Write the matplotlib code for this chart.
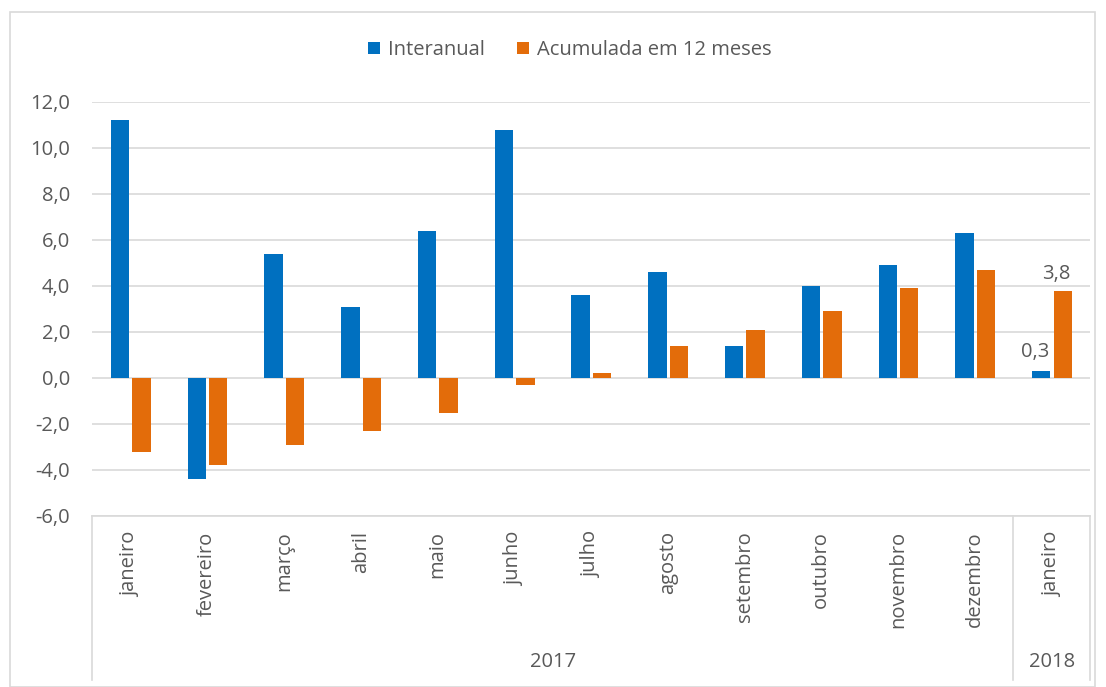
import matplotlib.pyplot as plt
from matplotlib.patches import Rectangle
import numpy as np

months = ["janeiro", "fevereiro", "março", "abril", "maio", "junho", "julho",
          "agosto", "setembro", "outubro", "novembro", "dezembro", "janeiro"]
years = ["2017", "2018"]
interanual = [11.2, -4.4, 5.4, 3.1, 6.4, 10.8, 3.6, 4.6, 1.4, 4.0, 4.9, 6.3, 0.3]
acumulada = [-3.2, -3.8, -2.9, -2.3, -1.5, -0.3, 0.2, 1.4, 2.1, 2.9, 3.9, 4.7, 3.8]

blue = "#0070C0"
orange = "#E36C0A"
grid = "#D9D9D9"
txt = "#595959"
fs = 14.5

plt.rcParams["font.family"] = ["Open Sans", "DejaVu Sans"]

fig = plt.figure(figsize=(11.06, 6.87), dpi=100)
# outer chart border
fig.patches.append(Rectangle((10 / 1106, 0), 1085 / 1106, 675 / 687, transform=fig.transFigure,
                             fill=False, edgecolor=grid, lw=1.2))

ax = fig.add_axes([92 / 1106, 1 - 516 / 687, 998 / 1106, 414 / 687])
x = np.arange(len(months))
w = 0.24
ax.bar(x - 0.135, interanual, w, color=blue, label="Interanual", zorder=3)
ax.bar(x + 0.145, acumulada, w, color=orange, label="Acumulada em 12 meses", zorder=3)

ax.set_xlim(-0.5, len(months) - 0.5)
ax.set_ylim(-6, 12)
yt = np.arange(-6, 13, 2)
ax.set_yticks(yt)
ax.set_yticklabels([("%.1f" % v).replace(".", ",") for v in yt], fontsize=fs, color=txt)
ax.yaxis.grid(True, color=grid, lw=1.2, zorder=0)
for s in ax.spines.values():
    s.set_visible(False)
ax.tick_params(axis="y", length=0, pad=16)
ax.tick_params(axis="x", length=0, pad=11)
ax.set_xticks(x)
ax.set_xticklabels(months, rotation=90, fontsize=fs, color=txt, va="top")

# category axis frame
tr = ax.get_xaxis_transform()
lo = -(680 - 516) / 414
for xv in [-0.5, 11.5, 12.5]:
    ax.plot([xv, xv], [0, lo], transform=tr, color=grid, lw=1.2, clip_on=False)
ax.plot([-0.5, 12.5], [0, 0], transform=tr, color=grid, lw=1.2, clip_on=False)
ax.text(5.5, -(662 - 516) / 414, years[0], transform=tr, ha="center", va="center", fontsize=fs, color=txt)
ax.text(12, -(662 - 516) / 414, years[1], transform=tr, ha="center", va="center", fontsize=fs, color=txt)

# data labels on last month
ax.text(12 - 0.135 - 0.08, interanual[-1] + 0.4, ("%.1f" % interanual[-1]).replace(".", ","),
        ha="center", va="bottom", fontsize=fs, color=txt)
ax.text(12 + 0.145 - 0.08, acumulada[-1] + 0.3, ("%.1f" % acumulada[-1]).replace(".", ","),
        ha="center", va="bottom", fontsize=fs, color=txt)

fig.legend(loc="center", bbox_to_anchor=(570 / 1106, 1 - 50 / 687), ncol=2, frameon=False,
           fontsize=fs, labelcolor=txt, handlelength=0.6, handleheight=0.6, handletextpad=0.4,
           columnspacing=1.6)

fig.savefig("out.png", dpi=100)
